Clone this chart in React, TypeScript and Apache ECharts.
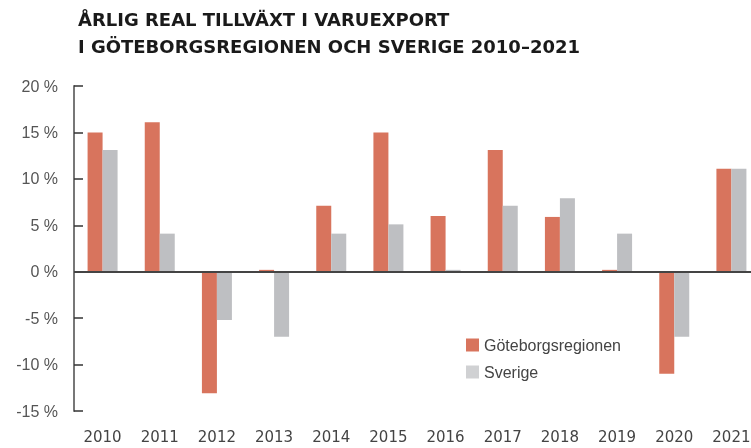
import React, { useEffect, useRef } from "react";
import * as echarts from "echarts";

const years = ["2010","2011","2012","2013","2014","2015","2016","2017","2018","2019","2020","2021"];
const goteborg = [15, 16.1, -13.1, 0.2, 7.1, 15, 6, 13.1, 5.9, 0.2, -11, 11.1];
const sverige = [13.1, 4.1, -5.2, -7, 4.1, 5.1, 0.2, 7.1, 7.9, 4.1, -7, 11.1];
const titleLines = ["ÅRLIG REAL TILLVÄXT I VARUEXPORT", "I GÖTEBORGSREGIONEN OCH SVERIGE 2010–2021"];

const ORANGE = "#D8745D";
const GRAY = "#BEBFC2";

export default function App() {
  const ref = useRef<HTMLDivElement>(null);
  useEffect(() => {
    if (!ref.current) return;
    const chart = echarts.init(ref.current, null, { renderer: "svg" });
    chart.setOption({
      animation: false,
      textStyle: { fontFamily: "Liberation Sans" },
      title: {
        text: titleLines.join("\n"),
        left: 73,
        top: 1,
        textStyle: {
          fontFamily: "DejaVu Sans",
          fontWeight: "bold",
          fontSize: 18,
          lineHeight: 27,
          color: "#1a1a1a",
        },
      },
      legend: {
        orient: "vertical",
        left: 466,
        top: 337,
        padding: 0,
        itemWidth: 13,
        itemHeight: 13,
        itemGap: 11,
        icon: "rect",
        textStyle: { fontSize: 16, color: "#444", fontFamily: "Liberation Sans" },
        data: [
          { name: "Göteborgsregionen", itemStyle: { color: ORANGE } },
          { name: "Sverige", itemStyle: { color: "#D0D1D3" } },
        ],
      },
      grid: { left: 74, right: 0, top: 86, bottom: 37 },
      xAxis: {
        type: "category",
        data: years,
        axisLine: { show: false, onZero: false },
        axisTick: { show: false },
        axisLabel: { margin: 18, fontSize: 15, color: "#444", fontFamily: "DejaVu Sans" },
      },
      yAxis: {
        type: "value",
        min: -15,
        max: 20,
        interval: 5,
        axisLine: { show: true, lineStyle: { color: "#777", width: 2 } },
        axisTick: { show: true, inside: true, length: 9, lineStyle: { color: "#333", width: 1.5 } },
        splitLine: { show: false },
        axisLabel: { margin: 16, fontSize: 16, color: "#555", formatter: "{value} %" },
      },
      series: [
        {
          name: "Göteborgsregionen",
          type: "bar",
          data: goteborg,
          barWidth: 15,
          barGap: "0%",
          itemStyle: { color: ORANGE },
          markLine: {
            silent: true,
            symbol: "none",
            label: { show: false },
            lineStyle: { color: "#444", width: 2, type: "solid" },
            data: [{ yAxis: 0 }],
          },
        },
        {
          name: "Sverige",
          type: "bar",
          data: sverige,
          barWidth: 15,
          itemStyle: { color: GRAY },
        },
      ],
    });
    return () => chart.dispose();
  }, []);
  return (
    <div style={{ position: "fixed", left: 0, top: 0, width: 751, height: 448, overflow: "hidden" }}>
      <div ref={ref} style={{ width: 760, height: 448 }} />
    </div>
  );
}
